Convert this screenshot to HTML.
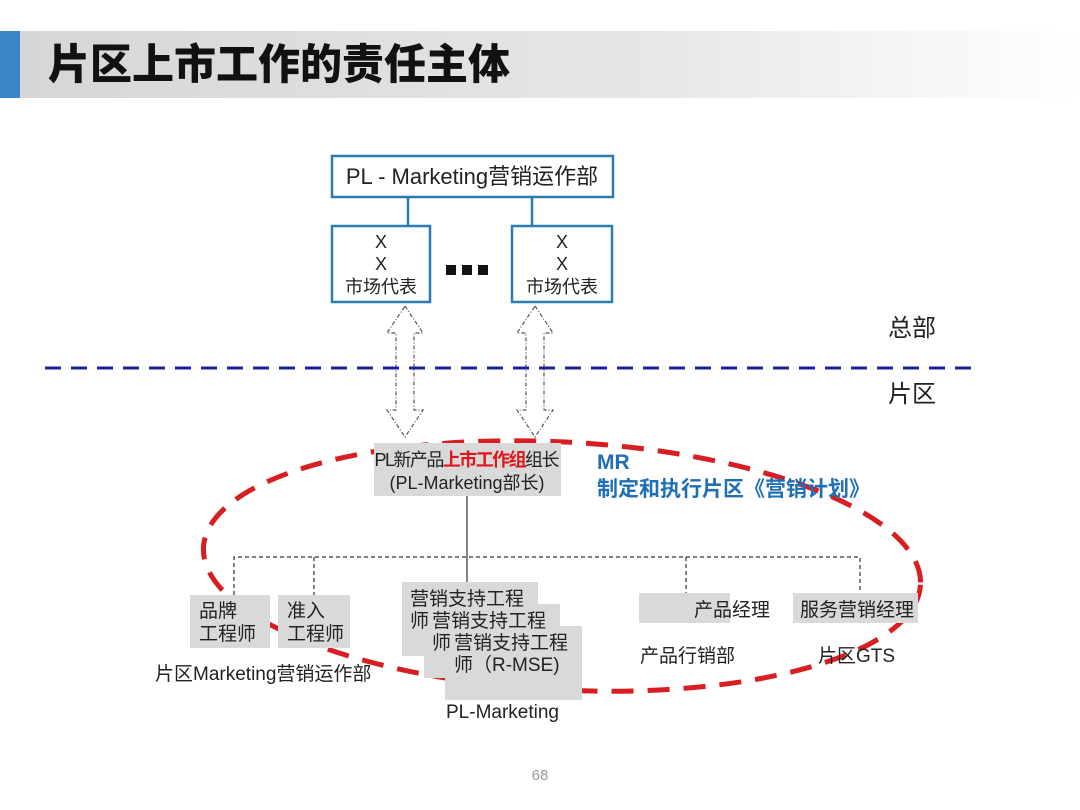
<!DOCTYPE html>
<html><head><meta charset="utf-8"><style>
html,body{margin:0;padding:0;background:#fff;width:1080px;height:810px;overflow:hidden}
svg{display:block;font-family:"Liberation Sans","Noto Sans CJK SC",sans-serif}
</style></head><body>
<svg width="1080" height="810" viewBox="0 0 1080 810" xmlns="http://www.w3.org/2000/svg">
<defs>
<linearGradient id="tg" x1="0" x2="1" y1="0" y2="0">
<stop offset="0" stop-color="#d4d6d8"/><stop offset="0.6" stop-color="#e6e7e8"/><stop offset="1" stop-color="#ffffff"/>
</linearGradient>
</defs>
<rect x="20" y="31" width="1060" height="67" fill="url(#tg)"/>
<rect x="0" y="31" width="20" height="67" fill="#3a86c8"/>
<text x="48" y="79" font-size="42" font-weight="900" fill="#111" font-family="'Noto Sans CJK SC',sans-serif">片区上市工作的责任主体</text>

<rect x="332" y="156" width="281" height="41" fill="#fff" stroke="#2b7bb0" stroke-width="2.5"/>
<text x="472" y="184" font-size="22" text-anchor="middle" fill="#222">PL - Marketing营销运作部</text>
<line x1="408" y1="197" x2="408" y2="226" stroke="#2b7bb0" stroke-width="2.5"/>
<line x1="532" y1="197" x2="532" y2="226" stroke="#2b7bb0" stroke-width="2.5"/>
<rect x="332" y="226" width="98" height="76" fill="#fff" stroke="#2b7bb0" stroke-width="2.5"/>
<rect x="512" y="226" width="100" height="76" fill="#fff" stroke="#2b7bb0" stroke-width="2.5"/>
<g font-size="18" text-anchor="middle" fill="#222">
<text x="381" y="248">X</text><text x="381" y="270">X</text><text x="381" y="293">市场代表</text>
<text x="562" y="248">X</text><text x="562" y="270">X</text><text x="562" y="293">市场代表</text>
</g>
<rect x="446" y="265" width="10" height="10" fill="#111"/>
<rect x="462" y="265" width="10" height="10" fill="#111"/>
<rect x="478" y="265" width="10" height="10" fill="#111"/>

<g fill="#fff" stroke="#555" stroke-width="1.2" stroke-dasharray="4,2,1,2">
<path d="M405 306 L423 333 L414 333 L414 410 L423 410 L405 437 L387 410 L396 410 L396 333 L387 333 Z"/>
<path d="M535 306 L553 333 L544 333 L544 410 L553 410 L535 437 L517 410 L526 410 L526 333 L517 333 Z"/>
</g>

<text x="888" y="336" font-size="24" fill="#222">总部</text>
<text x="888" y="402" font-size="24" fill="#222">片区</text>
<line x1="45" y1="368" x2="972" y2="368" stroke="#1a2299" stroke-width="3" stroke-dasharray="16,10"/>

<ellipse cx="562" cy="566" rx="359" ry="124" fill="none" stroke="#d81e22" stroke-width="5" stroke-dasharray="22,14" transform="rotate(3 562 566)"/>

<rect x="374" y="443" width="187" height="53" fill="#d9d9d9"/>
<text x="467" y="466" font-size="18" text-anchor="middle" fill="#222" textLength="185">PL新产品<tspan fill="#e0161c" font-weight="bold">上市工作组</tspan>组长</text>
<text x="467" y="489" font-size="18" text-anchor="middle" fill="#222">(PL-Marketing部长)</text>
<text x="597" y="469" font-size="21" font-weight="bold" fill="#1f6fb5">MR</text>
<text x="597" y="496" font-size="21" font-weight="bold" fill="#1f6fb5">制定和执行片区《营销计划》</text>

<line x1="467" y1="496" x2="467" y2="584" stroke="#333" stroke-width="1.2"/>
<g stroke="#333" stroke-width="1.2" stroke-dasharray="4,3" fill="none">
<path d="M234 595 V557 H860 V594"/>
<line x1="314" y1="557" x2="314" y2="595"/>
<line x1="686" y1="557" x2="686" y2="593"/>
</g>

<g fill="#d9d9d9">
<rect x="190" y="595" width="80" height="53"/>
<rect x="278" y="595" width="72" height="53"/>
<rect x="402" y="582" width="136" height="74"/>
<rect x="424" y="604" width="136" height="74"/>
<rect x="445" y="626" width="137" height="74"/>
<rect x="639" y="593" width="91" height="30"/>
<rect x="793" y="593" width="125" height="30"/>
</g>
<g font-size="19" fill="#222">
<text x="199" y="617">品牌</text><text x="199" y="640">工程师</text>
<text x="287" y="617">准入</text><text x="287" y="640">工程师</text>
<text x="410" y="605">营销支持工程</text><text x="410" y="627">师</text>
<text x="432" y="627">营销支持工程</text><text x="432" y="649">师</text>
<text x="454" y="649">营销支持工程</text><text x="454" y="671">师（R-MSE)</text>
<text x="694" y="616">产品经理</text>
<text x="800" y="616">服务营销经理</text>
<text x="155" y="680">片区Marketing营销运作部</text>
<text x="446" y="718">PL-Marketing</text>
<text x="640" y="662">产品行销部</text>
<text x="818" y="662">片区GTS</text>
</g>
<text x="540" y="780" font-size="15" fill="#999" text-anchor="middle">68</text>
</svg>
</body></html>
